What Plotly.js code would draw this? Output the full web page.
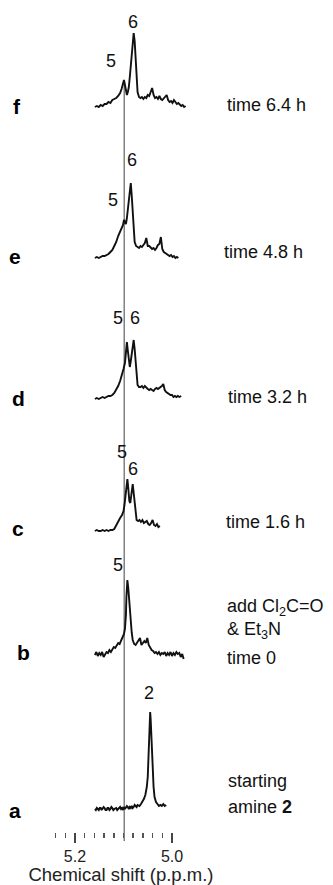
<!DOCTYPE html>
<html>
<head>
<meta charset="utf-8">
<script src="https://cdn.plot.ly/plotly-3.0.1.min.js"></script>
<style>html,body{margin:0;padding:0;background:#fff;}#chart{width:333px;height:885px;}</style>
</head>
<body>
<div id="chart"></div>
<script>
// ---- Data (chemical shift in p.p.m., intensity in arbitrary units above baseline) ----
const specA_ppm = [5.159,5.157,5.155,5.153,5.151,5.149,5.147,5.145,5.143,5.141,5.139,5.137,5.135,5.133,5.131,5.129,5.127,5.125,5.123,5.121,5.119,5.117,5.115,5.113,5.111,5.109,5.107,5.105,5.103,5.101,5.099,5.097,5.095,5.093,5.091,5.089,5.087,5.085,5.083,5.081,5.079,5.077,5.075,5.073,5.071,5.069,5.067,5.064,5.061,5.058,5.055,5.052,5.050,5.048,5.046,5.045,5.044,5.042,5.040,5.038,5.036,5.033,5.030,5.027,5.024,5.021,5.018,5.015,5.012];
const specA_int = [0,-1,1,0,-1,1,1,-1,0,2,1,-1,-1,1,1,-1,0,2,1,-1,0,1,1,-1,0,1,2,0,1,-1,2,0,1,3,2,0,2,1,3,1,2,4,3,2,4,3,3,5,7,10,14,22,32,55,85,97,90,60,38,22,12,7,5,3,4,3,5,3,4];

const specB_ppm = [5.159,5.156,5.153,5.150,5.147,5.144,5.141,5.138,5.135,5.132,5.129,5.126,5.123,5.120,5.117,5.114,5.111,5.108,5.105,5.102,5.099,5.097,5.095,5.094,5.092,5.090,5.088,5.085,5.083,5.081,5.078,5.075,5.072,5.069,5.066,5.063,5.060,5.057,5.054,5.051,5.048,5.045,5.042,5.039,5.036,5.033,5.030,5.027,5.024,5.021,5.018,5.015,5.012,5.009,5.006,5.003,5.000,4.997,4.994,4.991,4.988,4.985,4.982,4.979,4.976];
const specB_int = [0,3,-1,2,0,3,-2,1,3,2,5,3,6,8,7,10,12,11,15,17,21,26,40,58,75,66,52,35,22,15,11,10,12,14,17,10,12,14,12,17,10,7,5,4,2,3,1,3,0,2,1,3,-1,2,0,3,-1,2,0,3,1,2,-2,1,-4];

const specC_ppm = [5.159,5.155,5.151,5.147,5.143,5.139,5.135,5.131,5.127,5.123,5.119,5.115,5.111,5.107,5.103,5.100,5.098,5.096,5.094,5.092,5.090,5.088,5.086,5.084,5.081,5.079,5.077,5.075,5.073,5.070,5.067,5.064,5.061,5.058,5.055,5.052,5.049,5.046,5.043,5.040,5.037,5.034,5.031,5.028,5.025];
const specC_int = [0,1,0,0,1,0,1,0,1,1,2,6,10,13,16,20,26,34,44,52,42,30,28,34,47,38,26,16,11,10,11,9,11,8,9,10,7,6,8,11,6,5,7,4,5];

const specD_ppm = [5.159,5.155,5.151,5.147,5.143,5.139,5.135,5.131,5.127,5.123,5.119,5.115,5.111,5.107,5.103,5.100,5.097,5.095,5.093,5.091,5.089,5.087,5.085,5.083,5.081,5.079,5.077,5.075,5.073,5.071,5.068,5.065,5.062,5.059,5.056,5.053,5.050,5.047,5.044,5.041,5.038,5.035,5.032,5.029,5.026,5.023,5.021,5.018,5.015,5.012,5.009,5.006,5.003,5.000,4.997,4.994,4.991,4.988,4.985,4.981];
const specD_int = [0,1,0,1,2,1,2,3,3,4,6,9,13,18,24,30,36,44,57,48,36,32,38,45,55,59,50,34,20,14,12,12,13,11,13,11,10,9,10,9,8,10,11,10,11,12,13,15,9,7,6,5,4,4,2,3,2,3,2,3];

const specE_ppm = [5.159,5.155,5.151,5.147,5.143,5.139,5.135,5.131,5.127,5.123,5.119,5.115,5.111,5.107,5.104,5.101,5.099,5.097,5.095,5.093,5.091,5.089,5.087,5.085,5.083,5.081,5.079,5.077,5.074,5.071,5.068,5.065,5.062,5.059,5.056,5.053,5.050,5.047,5.044,5.041,5.038,5.035,5.032,5.029,5.026,5.023,5.020,5.017,5.014,5.011,5.008,5.005,5.002,4.999,4.996,4.993,4.990,4.987];
const specE_int = [0,1,0,1,2,2,3,4,6,8,12,16,22,26,30,33,38,36,34,40,48,58,68,75,62,42,26,16,12,11,10,12,11,13,15,20,12,12,10,9,10,8,10,13,14,21,9,6,5,4,3,2,3,1,2,0,1,0];

const specF_ppm = [5.159,5.155,5.151,5.147,5.143,5.139,5.135,5.131,5.127,5.123,5.119,5.115,5.111,5.107,5.104,5.101,5.099,5.097,5.095,5.093,5.091,5.089,5.087,5.085,5.083,5.081,5.079,5.077,5.075,5.073,5.071,5.068,5.065,5.062,5.059,5.056,5.053,5.050,5.047,5.044,5.041,5.038,5.035,5.032,5.029,5.026,5.023,5.020,5.017,5.014,5.011,5.008,5.005,5.002,4.999,4.996,4.993,4.990,4.987,4.984,4.981,4.978,4.975,4.972];
const specF_int = [0,1,0,2,1,3,3,5,4,7,8,9,11,14,18,24,27,22,14,12,15,20,30,42,55,68,74,66,45,26,15,10,9,10,8,10,9,12,11,15,19,12,9,10,8,11,8,7,9,11,12,7,5,6,4,7,5,3,4,2,1,2,0,1];

const spectrumKeys = ["a","b","c","d","e","f"];
const conditionLabels = {
  f: ["time 6.4 h"],
  e: ["time 4.8 h"],
  d: ["time 3.2 h"],
  c: ["time 1.6 h"],
  b: ["add Cl<sub>2</sub>C=O", "&amp; Et<sub>3</sub>N", "time 0"],
  a: ["starting", "amine <b>2</b>"]
};
// peak labels: [text, ppm, intensity]
const peakLabels = {
  f: [["6",5.0804,85],["5",5.1258,46]],
  e: [["6",5.0831,98],["5",5.1210,58]],
  d: [["5",5.1107,81],["6",5.0763,81]],
  c: [["5",5.1037,79],["6",5.0798,62]],
  b: [["5",5.1107,90]],
  a: [["2",5.0474,116]]
};
const referenceShift = 5.0985;
const majorTicks = [5.2, 5.0];
const majorTickText = ["5.2", "5.0"];
const minorTicks = [5.24,5.22,5.18,5.16,5.14,5.12,5.10,5.08,5.06,5.04,5.02];
const xTitle = "Chemical shift (p.p.m.)";

// ---- Layout geometry ----
const W = 333, H = 885, MB = 53, PH = H - MB;
const FONT = "Liberation Sans, Arial, Helvetica, sans-serif";
const basePx = {a:809, b:655, c:531, d:399, e:258, f:107};
const topUnits = {a:125, b:100, c:95, d:95, e:110, f:95};
const letterPos = {f:[17,106], e:[15,257], d:[18,398], c:[18,528], b:[23,652], a:[15,810]};
const condPos = {
  f:[[225,105]], e:[[222,252]], d:[[226,397]], c:[[224,522]],
  b:[[225,607],[225,630],[225,658]], a:[[226,781],[226,807]]
};
const py = p => (PH - p) / PH;
const px = p => p / W;

const series = {
  a:[specA_ppm,specA_int], b:[specB_ppm,specB_int], c:[specC_ppm,specC_int],
  d:[specD_ppm,specD_int], e:[specE_ppm,specE_int], f:[specF_ppm,specF_int]
};

const data = [];
const layout = {
  width: W, height: H,
  margin: {l:0, r:0, t:0, b:MB},
  paper_bgcolor: "#fff", plot_bgcolor: "rgba(0,0,0,0)",
  showlegend: false,
  font: {family: FONT, color: "#111", size: 18},
  xaxis: {
    domain: [55/W, 187/W],
    range: [5.2412, 4.9691],
    anchor: "free", position: 0,
    showline: false, zeroline: false, showgrid: false,
    tickmode: "array", tickvals: majorTicks, ticktext: majorTickText,
    ticks: "outside", ticklen: 10, tickwidth: 1.5, tickcolor: "#444",
    tickfont: {family: FONT, size: 16, color: "#222"},
    minor: {tickmode: "array", tickvals: minorTicks, ticks: "outside", ticklen: 5, tickwidth: 1.5, tickcolor: "#555", showgrid: false},
    title: {text: xTitle, font: {family: FONT, size: 18.5, color: "#222"}, standoff: 3},
    fixedrange: true
  },
  shapes: [{
    type: "line", xref: "x", yref: "paper",
    x0: referenceShift, x1: referenceShift, y0: py(841), y1: py(80),
    line: {color: "#808080", width: 1.5}, layer: "below"
  }],
  annotations: []
};

spectrumKeys.forEach((k, i) => {
  const yid = i === 0 ? "y" : "y" + (i + 1);
  const yname = i === 0 ? "yaxis" : "yaxis" + (i + 1);
  data.push({
    type: "scatter", mode: "lines", x: series[k][0], y: series[k][1],
    xaxis: "x", yaxis: yid,
    line: {color: "#111", width: 1.9, shape: "linear"},
    hoverinfo: "skip"
  });
  layout[yname] = {
    domain: [py(basePx[k] + 10), py(basePx[k] - topUnits[k])],
    range: [-10, topUnits[k]],
    visible: false, fixedrange: true, anchor: "x"
  };
  peakLabels[k].forEach(p => {
    layout.annotations.push({
      text: p[0], x: p[1], y: p[2], xref: "x", yref: yid,
      xanchor: "center", yanchor: "middle",
      showarrow: false, font: {family: FONT, size: 18, color: "#111"}
    });
  });
  layout.annotations.push({
    text: "<b>" + k + "</b>", x: px(letterPos[k][0]), y: py(letterPos[k][1]),
    xref: "paper", yref: "paper", xanchor: "center", yanchor: "middle",
    showarrow: false,
    font: {family: FONT, size: 21, color: "#000"}
  });
  conditionLabels[k].forEach((t, j) => {
    layout.annotations.push({
      text: t, x: px(condPos[k][j][0]), y: py(condPos[k][j][1]),
      xref: "paper", yref: "paper", xanchor: "left", yanchor: "middle",
      showarrow: false, font: {family: FONT, size: 18, color: "#111"}
    });
  });
});

Plotly.newPlot("chart", data, layout, {displayModeBar: false, staticPlot: true});
</script>
</body>
</html>
